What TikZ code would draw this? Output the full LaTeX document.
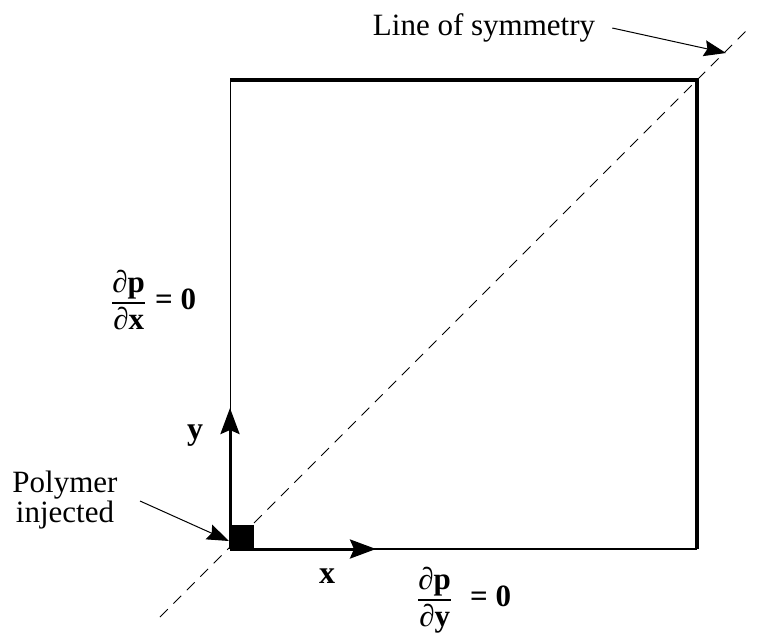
\documentclass[tikz,border=0pt]{standalone}
\usepackage{amsmath, amssymb}
\usepackage{fontspec}
\setmainfont{Liberation Serif}
\usetikzlibrary{positioning, arrows.meta}

\begin{document}
\begin{tikzpicture}[x=1pt, y=-1pt,
    lbl/.style={font=\fontsize{31}{30}\selectfont, inner sep=0pt, align=center},
    axis/.style={line width=3pt, -{Stealth[length=26pt, width=19pt, inset=4pt]}},
    note/.style={line width=1pt, -{Stealth[length=22pt, width=16pt, inset=3pt]}}]
    \useasboundingbox (0,0) rectangle (761,641);
    % domain
    \coordinate (o) at (230,549);
    \coordinate (tl) at (230,80);
    \coordinate (tr) at (697,80);
    \coordinate (br) at (697,549);
    \draw[line width=0.8pt] (o) -- (tl);
    \draw[line width=3.5pt, line join=miter] (tl) -- (tr) -- (br);
    \draw[line width=2.2pt] (br) -- (o);
    \draw[line width=1pt, dash pattern=on 11pt off 8pt] (160,617) -- (746,31);
    \fill (o) rectangle (254,525);
    % axes
    \coordinate (ytip) at (230,408);
    \coordinate (xtip) at (376,549);
    \draw[axis] (o) -- (ytip);
    \draw[axis] (o) -- (xtip);
    \node[lbl, font=\fontsize{32}{34}\bfseries] (ylab) at (195,436) {y};
    \node[lbl, font=\fontsize{32}{34}\bfseries] (xlab) at (327,576) {x};
    % boundary conditions
    \node[lbl, anchor=west] (bcx) at (111,300)
        {$\dfrac{\textbf{∂p}}{\textbf{∂x}}$\hspace{9pt}\textbf{= 0}};
    \node[lbl, anchor=west] (bcy) at (417,600)
        {$\dfrac{\textbf{∂p}}{\textbf{∂y}}$\hspace{18pt}\textbf{= 0}};
    % notes
    \node[lbl] (poly) at (65,500) {Polymer\\injected};
    \draw[note] (140,501) -- (229,541);
    \node[lbl] (sym) at (484,28) {Line of symmetry};
    \coordinate (symtip) at (726,53);
    \draw[note] (sym.east) ++(17,0) -- (symtip);
\end{tikzpicture}
\end{document}
